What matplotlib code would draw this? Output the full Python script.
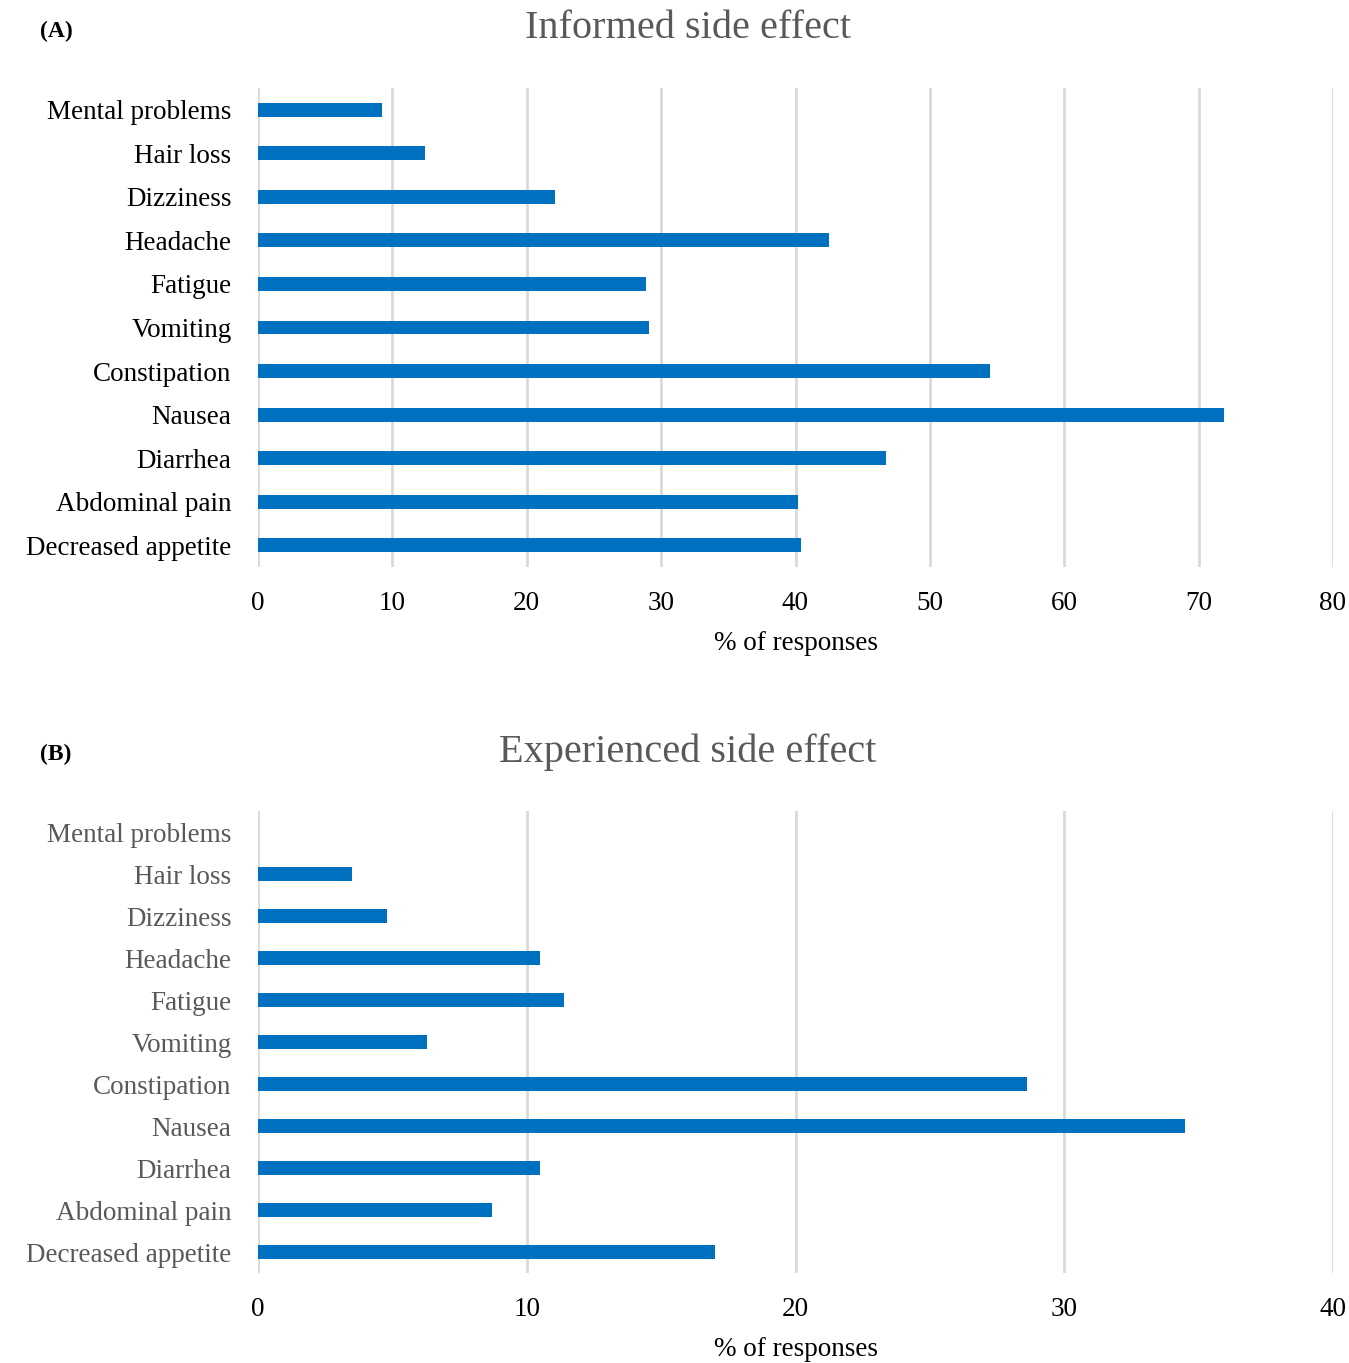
import matplotlib
matplotlib.use("Agg")
import matplotlib.pyplot as plt
import numpy as np

plt.rcParams['font.family'] = ['Liberation Serif', 'DejaVu Serif']

# Categories, top to bottom as shown
categories = ['Mental problems', 'Hair loss', 'Dizziness', 'Headache', 'Fatigue',
              'Vomiting', 'Constipation', 'Nausea', 'Diarrhea', 'Abdominal pain',
              'Decreased appetite']

# % of responses
informed = [9.2, 12.4, 22.1, 42.5, 28.9, 29.1, 54.5, 71.9, 46.7, 40.2, 40.4]
experienced = [0, 3.5, 4.8, 10.5, 11.4, 6.3, 28.6, 34.5, 10.5, 8.7, 17.0]

ticks_a = [0, 10, 20, 30, 40, 50, 60, 70, 80]
ticks_b = [0, 10, 20, 30, 40]

W, H = 1349, 1363
fig = plt.figure(figsize=(W / 100, H / 100), dpi=100)

bar_color = '#0070C0'
grid_color = '#d9d9d9'
grey = '#595959'
fs = 19.5


def panel(rect, values, ticks, title, letter, label_color, title_y, letter_y):
    left, top, right, bottom = rect
    ax = fig.add_axes([left / W, 1 - bottom / H, (right - left) / W, (bottom - top) / H])
    y = np.arange(len(categories))
    ax.barh(y, values, height=0.32, color=bar_color, zorder=3)
    ax.set_ylim(len(categories) - 0.5, -0.5)
    ax.set_xlim(ticks[0], ticks[-1])
    ax.set_yticks(y)
    ax.set_yticklabels(categories, fontsize=fs, color=label_color)
    ax.set_xticks(ticks)
    ax.set_xticklabels([str(t) for t in ticks], fontsize=fs, color='black')
    ax.tick_params(axis='both', length=0)
    ax.tick_params(axis='x', pad=17)
    ax.tick_params(axis='y', pad=19)
    ax.grid(axis='x', color=grid_color, linewidth=2, zorder=0)
    for s in ax.spines.values():
        s.set_visible(False)
    ax.set_xlabel('% of responses', fontsize=fs, labelpad=11)
    fig.text(688 / W, 1 - title_y / H, title, ha='center', va='center',
             fontsize=29, color=grey)
    fig.text(40 / W, 1 - letter_y / H, letter, ha='left', va='center',
             fontsize=17, fontweight='bold')
    return ax


panel((258, 88, 1333, 567), informed, ticks_a, 'Informed side effect', '(A)',
      'black', 28, 31)
panel((258, 811, 1333, 1273), experienced, ticks_b, 'Experienced side effect', '(B)',
      grey, 752, 754)

fig.savefig('out.png', dpi=100)
